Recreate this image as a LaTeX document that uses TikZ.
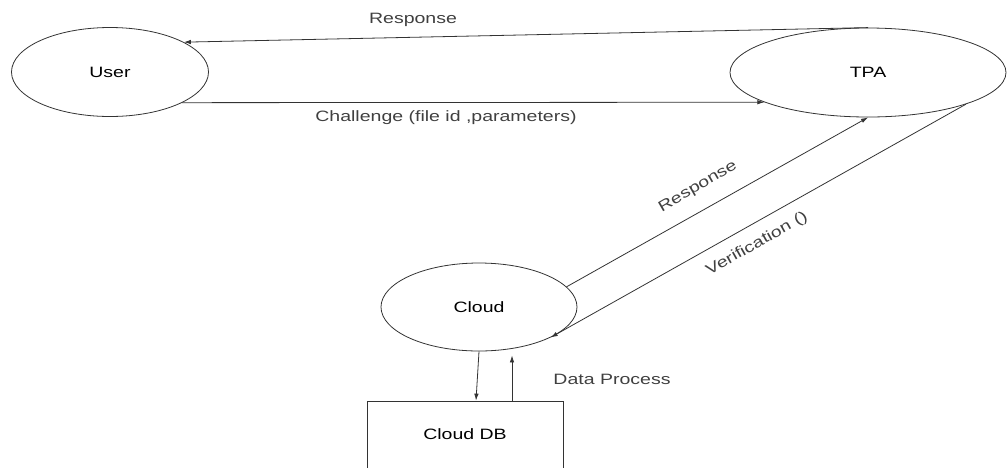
\documentclass[tikz,border=0pt]{standalone}
\usepackage{fontspec}
\setmainfont{Liberation Sans}
\usetikzlibrary{arrows.meta,shapes.geometric,positioning}

% text in the drawing is set wide
\newcommand{\widetext}[1]{\scalebox{1.3}[1]{#1}}

\tikzset{
  entity/.style={draw=black!80,ellipse,inner sep=0pt,font=\fontsize{15}{18}\selectfont},
  store/.style={draw=black!80,rectangle,inner sep=0pt,font=\fontsize{15}{18}\selectfont},
  flow/.style={draw=black!80,line width=0.8pt,-{Latex[length=7pt,width=4.5pt]}},
  flowlabel/.style={font=\fontsize{15}{18}\selectfont,text=black!75,inner sep=1pt}
}

\begin{document}
\begin{tikzpicture}[x=1pt,y=-1pt,line width=0.8pt]
\useasboundingbox (0,0) rectangle (1008,467);

% the parties
\node[entity,minimum width=197,minimum height=89] (user) at (110,72) {\widetext{User}};
\node[entity,minimum width=276,minimum height=89] (tpa) at (868,72.5) {\widetext{TPA}};
\node[entity,minimum width=196,minimum height=88] (cloud) at (479,307) {\widetext{Cloud}};
\node[store,minimum width=196,minimum height=67] (clouddb) at (465,434.5) {\widetext{Cloud DB}};

% user <-> tpa
\draw[flow] (tpa.north) -- (user.22);
\node[flowlabel] (resp1) at (413,20) {\widetext{Response}};
\draw[flow] (user.-23) -- (tpa.196.8);
\node[flowlabel] (chal) at (446,118) {\widetext{Challenge (file id ,parameters)}};

% tpa <-> cloud
\draw[flow] (cloud.13) -- (tpa.south);
\node[flowlabel,rotate=30] (resp2) at (698,187) {\widetext{Response}};
\draw[flow] (tpa.-18.5) -- (cloud.-23);
\node[flowlabel,rotate=29.5] (verif) at (757,244) {\widetext{Verification ()}};

% cloud <-> cloud db
\draw[flow] (cloud.south) -- ([xshift=11]clouddb.north);
\draw[flow,shorten >=4pt] ([xshift=47]clouddb.north) -- ([xshift=47]clouddb.north |- cloud.south);
\node[flowlabel] (dproc) at (612,379) {\widetext{Data Process}};
\end{tikzpicture}
\end{document}
